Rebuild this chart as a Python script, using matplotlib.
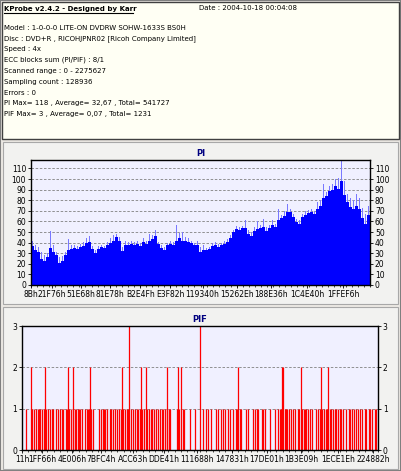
import matplotlib
matplotlib.use("Agg")
import matplotlib.pyplot as plt
from matplotlib.patches import Rectangle
from matplotlib.ticker import FixedLocator, MultipleLocator
import numpy as np

# ---------------- data ----------------
header_title = "KProbe v2.4.2 - Designed by Karr"
header_date = "Date : 2004-10-18 00:04:08"
header_lines = [
    "Model : 1-0-0-0 LITE-ON DVDRW SOHW-1633S BS0H",
    "Disc : DVD+R , RICOHJPNR02 [Ricoh Company Limited]",
    "Speed : 4x",
    "ECC blocks sum (PI/PIF) : 8/1",
    "Scanned range : 0 - 2275627",
    "Sampling count : 128936",
    "Errors : 0",
    "PI Max= 118 , Average= 32,67 , Total= 541727",
    "PIF Max= 3 , Average= 0,07 , Total= 1231",
]
lba_end = 2275627

pi_base = [37, 33, 31, 25, 23, 26, 35, 31, 28, 21, 23, 28, 33, 34, 35, 34, 36, 37, 40, 41,
           34, 30, 34, 36, 35, 38, 40, 42, 45, 42, 32, 38, 38, 39, 38, 39, 37, 41, 39, 42,
           43, 46, 39, 35, 33, 38, 39, 38, 42, 44, 42, 42, 41, 40, 38, 38, 31, 33, 33, 34,
           37, 38, 36, 38, 39, 41, 44, 50, 53, 52, 54, 54, 48, 46, 51, 53, 54, 55, 51, 54,
           57, 55, 61, 63, 65, 69, 69, 64, 59, 58, 64, 66, 68, 69, 67, 72, 75, 82, 84, 89,
           90, 93, 91, 98, 85, 78, 74, 72, 75, 72, 63, 58, 66]
pi_peak = [42, 38, 36, 31, 28, 30, 51, 38, 31, 26, 27, 31, 43, 38, 38, 37, 39, 41, 44, 46,
           37, 33, 37, 38, 37, 41, 44, 47, 48, 45, 36, 42, 41, 42, 41, 42, 40, 44, 42, 48,
           47, 52, 41, 38, 36, 40, 42, 41, 57, 49, 50, 45, 44, 42, 40, 42, 36, 38, 35, 36,
           40, 41, 39, 40, 42, 43, 47, 52, 56, 55, 56, 61, 52, 50, 55, 60, 57, 62, 55, 57,
           61, 58, 72, 66, 70, 76, 72, 67, 62, 61, 67, 70, 71, 72, 70, 78, 80, 95, 88, 93,
           95, 100, 101, 118, 98, 86, 82, 80, 86, 82, 73, 67, 75]

pi_tick_labels = ["8Bh", "21F76h", "51E68h", "81E78h", "B2E4Fh", "E3F82h", "119340h",
                  "15262Eh", "188E36h", "1C4E40h", "1FFEF6h"]
pif_tick_labels = ["11h", "1FF66h", "4E006h", "7BFC4h", "ACC63h", "DDE41h", "111688h",
                   "147831h", "17DE01h", "1B3E09h", "1ECE1Eh", "224882h"]

# PIF events: positions in thousands of LBA
pif_pos_3 = [685, 1137]
pif_pos_2 = [60, 149, 292, 328, 434, 641, 762, 790, 930, 994, 1015, 1382, 1665, 1671,
             1782, 1914, 1956]
pif_pos_1 = [28, 66, 79, 89, 100, 111, 117, 130, 138, 153, 168, 179, 194, 200, 217, 232,
             243, 253, 264, 279, 285, 300, 313, 324, 339, 345, 356, 362, 370, 385, 405,
             413, 422, 430, 441, 453, 492, 505, 515, 526, 532, 541, 562, 568, 583, 594,
             609, 620, 630, 647, 658, 668, 679, 696, 707, 722, 732, 743, 754, 769, 781,
             796, 811, 822, 832, 843, 856, 869, 881, 896, 903, 913, 924, 939, 949, 988,
             1003, 1026, 1037, 1077, 1105, 1158, 1175, 1190, 1207, 1243, 1254, 1275, 1286,
             1296, 1318, 1328, 1350, 1367, 1375, 1392, 1403, 1435, 1445, 1477, 1488, 1499,
             1509, 1531, 1541, 1552, 1584, 1616, 1637, 1648, 1658, 1680, 1686, 1694, 1707,
             1722, 1733, 1743, 1765, 1771, 1792, 1801, 1812, 1818, 1829, 1839, 1854, 1882,
             1892, 1903, 1920, 1929, 1941, 1950, 1967, 1978, 1988, 1999, 2010, 2020, 2031,
             2041, 2052, 2073, 2090, 2099, 2112, 2120, 2133, 2148, 2159, 2176, 2190, 2201,
             2218, 2227, 2239, 2254, 2265]

# ---------------- figure ----------------
W, H = 401, 471
fig = plt.figure(figsize=(W / 100, H / 100), dpi=100)
fig.patch.set_facecolor("#ECE9E4")
plt.rcParams['font.family'] = ['DejaVu Sans']

def px(x, y, w, h):
    return [x / W, 1 - (y + h) / H, w / W, h / H]

# frame / panels (drawn beneath the axes)
fig.add_artist(Rectangle((0, 0), 1, 1, transform=fig.transFigure, fill=False,
                         edgecolor="#7F7F7F", lw=1.5, zorder=-5))
hx, hy, hw, hh = px(2, 2, 397, 137)
fig.add_artist(Rectangle((hx, hy), hw, hh, transform=fig.transFigure,
                         facecolor="#FFFFF4", edgecolor="#404040", lw=1.0, zorder=-5))
for (yy, hgt) in [(142, 162), (307, 162)]:
    bx, by, bw, bh = px(3, yy, 395, hgt)
    fig.add_artist(Rectangle((bx, by), bw, bh, transform=fig.transFigure,
                             facecolor="#F2F2F0", edgecolor="#A8A8A8", lw=0.8, zorder=-5))

fs = 5.0
tfs = 5.5
fig.text(4 / W, 1 - 8.5 / H, header_title, fontsize=fs, fontweight="bold",
         va="center", ha="left", color="black")
fig.add_artist(plt.Line2D([4 / W, 133 / W], [1 - 13 / H, 1 - 13 / H],
                          transform=fig.transFigure, color="black", lw=0.8))
fig.text(199 / W, 1 - 8.5 / H, header_date, fontsize=fs, va="center", ha="left")
for i, line in enumerate(header_lines):
    fig.text(4 / W, 1 - (27.7 + i * 10.8) / H, line, fontsize=fs, va="center", ha="left")

bg = "#F0F0FF"

def style_axes(ax, yt):
    ax.set_facecolor(bg)
    for s in ax.spines.values():
        s.set_color("black")
        s.set_linewidth(1.0)
    ax.tick_params(axis="both", labelsize=tfs, length=2, width=0.6, pad=1.5,
                   colors="black")
    ax.tick_params(axis="y", which="both", left=True, right=True,
                   labelleft=True, labelright=True)
    ax.tick_params(axis="x", which="minor", length=1.5, width=0.5)
    ax.set_yticks(yt)
    ax.yaxis.grid(True, linestyle=(0, (3, 2)), color="#808080", lw=0.6)
    ax.set_axisbelow(True)

# ---- PI ----
ax1 = fig.add_axes(px(31, 160, 339, 125))
n = len(pi_base)
bw_ = lba_end / n
xs = (np.arange(n) + 0.5) * bw_
ax1.bar(xs, pi_peak, width=bw_ * 0.4, color="#7878FF", lw=0)
ax1.bar(xs, pi_base, width=bw_ * 1.02, color="#0000FF", lw=0)
ax1.set_xlim(0, lba_end)
ax1.set_ylim(0, 118)
style_axes(ax1, np.arange(0, 111, 10))
ax1.xaxis.set_major_locator(FixedLocator([int(s[:-1], 16) for s in pi_tick_labels]))
ax1.set_xticklabels(pi_tick_labels)
ax1.xaxis.set_minor_locator(MultipleLocator(lba_end / 56))
ax1.set_title("PI", fontsize=6, fontweight="bold", color="#000080", pad=3)

# ---- PIF ----
ax2 = fig.add_axes(px(22, 326, 356, 124))
for vals, v in [(pif_pos_1, 1), (pif_pos_2, 2), (pif_pos_3, 3)]:
    ax2.vlines(np.array(vals) * 1000.0, 0, v, color="#FF0000", lw=0.9)
ax2.set_xlim(0, lba_end)
ax2.set_ylim(0, 3)
style_axes(ax2, [0, 1, 2, 3])
ax2.xaxis.set_major_locator(FixedLocator([int(s[:-1], 16) for s in pif_tick_labels]))
ax2.set_xticklabels(pif_tick_labels)
ax2.xaxis.set_minor_locator(MultipleLocator(lba_end / 56))
ax2.set_title("PIF", fontsize=6, fontweight="bold", color="#000080", pad=3)

fig.savefig("out.png", dpi=100, facecolor=fig.get_facecolor())
